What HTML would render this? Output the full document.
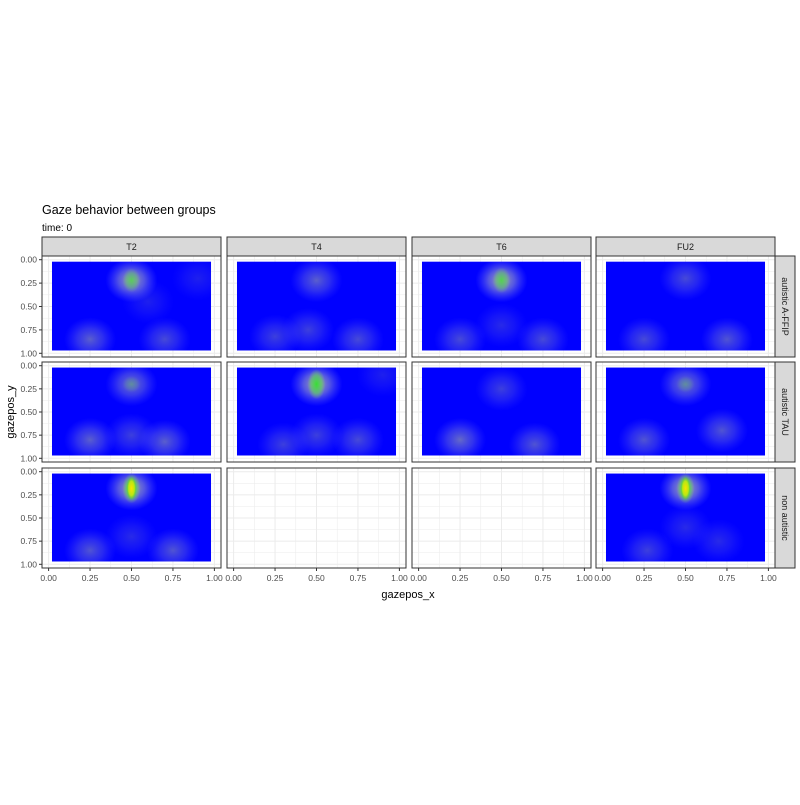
<!DOCTYPE html>
<html><head><meta charset="utf-8"><style>
body{margin:0;background:#fff}
svg text{font-family:"Liberation Sans",sans-serif}
</style></head><body>
<svg id="c" width="800" height="800" xmlns="http://www.w3.org/2000/svg">
<defs>
<radialGradient id="gw"><stop offset="0" stop-color="#a8b0a0" stop-opacity="1"/><stop offset="0.5" stop-color="#8c90d0" stop-opacity="0.6"/><stop offset="1" stop-color="#6060ff" stop-opacity="0"/></radialGradient>
<radialGradient id="gg"><stop offset="0" stop-color="#30e030" stop-opacity="1"/><stop offset="0.6" stop-color="#60d060" stop-opacity="0.7"/><stop offset="1" stop-color="#80c080" stop-opacity="0"/></radialGradient>
<radialGradient id="gy"><stop offset="0" stop-color="#ffe000" stop-opacity="1"/><stop offset="0.6" stop-color="#d0f000" stop-opacity="0.8"/><stop offset="1" stop-color="#40e000" stop-opacity="0"/></radialGradient>
</defs>
<text x="42" y="214" font-size="12.5" fill="#000">Gaze behavior between groups</text>
<text x="42" y="231" font-size="10" fill="#000">time: 0</text>
<text x="408" y="598" font-size="11" text-anchor="middle">gazepos_x</text>
<text transform="translate(14,412) rotate(-90)" font-size="11" text-anchor="middle">gazepos_y</text>
<g id="g"></g>
</svg>
<script>
const cols=["T2","T4","T6","FU2"];
const rows=["autistic A-FFIP","autistic TAU","non autistic"];
const ticks=[0,0.25,0.5,0.75,1];
const tickLabels=["0.00","0.25","0.50","0.75","1.00"];
const hasData=[[1,1,1,1],[1,1,1,1],[1,0,0,1]];
const blobPanel=[0,0,0,0,0, 1,1,1,1, 2,2,2,2, 3,3,3, 4,4,4,4, 5,5,5,5,5, 6,6,6, 7,7,7, 8,8,8,8, 11,11,11,11];
const blobX=[0.5,0.25,0.7,0.9,0.6, 0.5,0.25,0.45,0.75, 0.5,0.25,0.75,0.5, 0.5,0.25,0.75, 0.5,0.25,0.7,0.5, 0.5,0.3,0.5,0.75,0.9, 0.5,0.25,0.7, 0.5,0.25,0.72, 0.5,0.25,0.75,0.5, 0.5,0.27,0.7,0.5];
const blobY=[0.22,0.85,0.85,0.2,0.45, 0.22,0.82,0.75,0.85, 0.22,0.85,0.85,0.7, 0.2,0.85,0.85, 0.2,0.8,0.82,0.75, 0.2,0.85,0.75,0.8,0.1, 0.25,0.8,0.85, 0.2,0.8,0.7, 0.18,0.85,0.85,0.7, 0.18,0.85,0.75,0.6];
const blobW=[0.8,0.45,0.35,0.15,0.15, 0.45,0.3,0.3,0.35, 0.85,0.35,0.35,0.2, 0.35,0.35,0.4, 0.55,0.45,0.45,0.3, 1.0,0.3,0.3,0.35,0.15, 0.3,0.5,0.4, 0.55,0.4,0.4, 1.3,0.4,0.4,0.2, 1.3,0.3,0.2,0.2];

const NS="http://www.w3.org/2000/svg";
const g=document.getElementById('g');
function mk(t,a,p){const e=document.createElementNS(NS,t);for(const k in a)e.setAttribute(k,a[k]);(p||g).appendChild(e);return e;}
const colL=[42,227,412,596], pw=179;
const rowT=[256,362,468], ph=[101,100,100];
function xs(c,v){return colL[c]+6.6+v*(pw-13.2);}
function ys(r,v){return rowT[r]+3.7+v*(ph[r]-7.4);}
cols.forEach((n,c)=>{
 const s=mk('rect',{x:colL[c],y:237,width:pw,height:19,fill:'#d9d9d9',stroke:'#333','stroke-width':1});
 
 const t=mk('text',{x:colL[c]+pw/2,y:250,'font-size':9,'text-anchor':'middle',fill:'#1a1a1a'});t.textContent=n;
 
});
rows.forEach((n,r)=>{
 const s=mk('rect',{x:775,y:rowT[r],width:20,height:ph[r],fill:'#d9d9d9',stroke:'#333','stroke-width':1});
 
 const cy=rowT[r]+ph[r]/2;
 const t=mk('text',{transform:`translate(782,${cy}) rotate(90)`,'font-size':9,'text-anchor':'middle',fill:'#1a1a1a'});t.textContent=n;
 
});
for(let r=0;r<3;r++)for(let c=0;c<4;c++){
 const p=r*4+c;
 const grp=mk('g',{});
 mk('rect',{x:colL[c],y:rowT[r],width:pw,height:ph[r],fill:'#fff'},grp);
 for(let i=0;i<=8;i++){const v=i/8;const w=i%2?0.5:1;
  mk('line',{x1:xs(c,v),x2:xs(c,v),y1:rowT[r],y2:rowT[r]+ph[r],stroke:'#ebebeb','stroke-width':w},grp);
  mk('line',{y1:ys(r,v),y2:ys(r,v),x1:colL[c],x2:colL[c]+pw,stroke:'#ebebeb','stroke-width':w},grp);}
 if(hasData[r][c]){
  const x0=xs(c,0.02),x1=xs(c,0.98),y0=ys(r,0.02),y1=ys(r,0.97);
  mk('clipPath',{id:'cp'+p},grp);
  mk('rect',{x:x0,y:y0,width:x1-x0,height:y1-y0},grp.lastChild);
  const hm=mk('g',{'clip-path':`url(#cp${p})`},grp);
  
  mk('rect',{x:x0,y:y0,width:x1-x0,height:y1-y0,fill:'#0000ff'},hm);
  blobPanel.forEach((bp,i)=>{ if(bp!==p)return;
   const cx=xs(c,blobX[i]),cy=ys(r,blobY[i]),w=blobW[i];
   const e=mk('ellipse',{cx,cy,rx:26,ry:22,fill:'url(#gw)',opacity:Math.min(1,w*1.2)},hm);
   
   if(w>0.5){const e2=mk('ellipse',{cx,cy,rx:9,ry:15*Math.min(w,1),fill:'url(#gg)',opacity:Math.min(1,(w-0.4)*1.6)},hm);
    }
   if(w>1.1){const e3=mk('ellipse',{cx,cy,rx:5,ry:12,fill:'url(#gy)'},hm);
    }
  });
 }
 mk('rect',{x:colL[c],y:rowT[r],width:pw,height:ph[r],fill:'none',stroke:'#333','stroke-width':1},grp);
 if(c===0){ticks.forEach((v,i)=>{const y=ys(r,v);
  mk('line',{x1:colL[0]-3,x2:colL[0],y1:y,y2:y,stroke:'#333'});
  const t=mk('text',{x:colL[0]-5,y:y+3,'font-size':8.5,'text-anchor':'end',fill:'#4d4d4d'});t.textContent=tickLabels[i];
  });}
 if(r===2){ticks.forEach((v,i)=>{const x=xs(c,v);
  mk('line',{x1:x,x2:x,y1:568,y2:571,stroke:'#333'});
  const t=mk('text',{x:x,y:581,'font-size':8.5,'text-anchor':'middle',fill:'#4d4d4d'});t.textContent=tickLabels[i];
  });}
}
</script>
</body></html>
